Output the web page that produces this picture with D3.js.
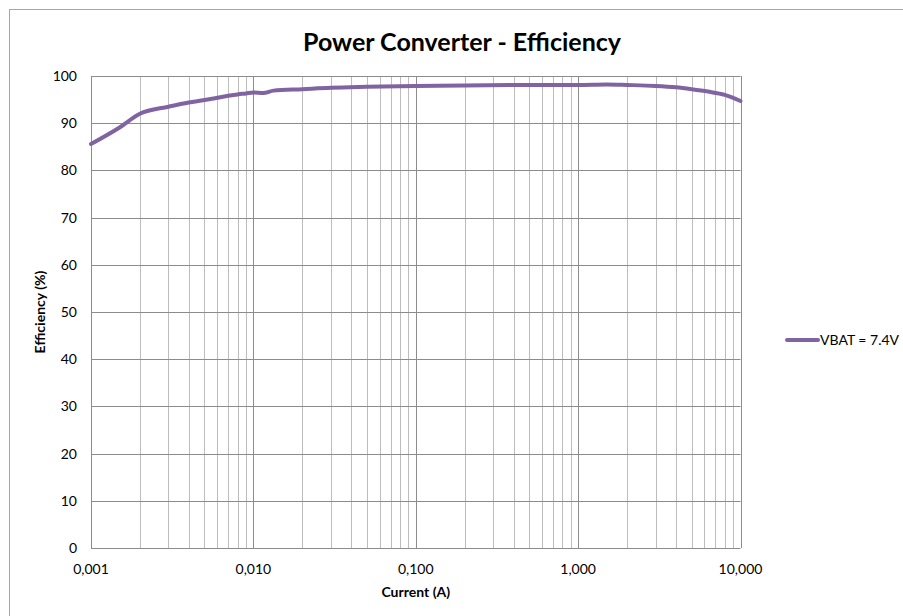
<!DOCTYPE html>
<html>
<head>
<meta charset="utf-8">
<script src="https://cdn.jsdelivr.net/npm/d3@7"></script>
<style>
  html, body { margin: 0; padding: 0; background: #fff; }
  svg { display: block; }
  text { font-family: Lato, "Open Sans", sans-serif; fill: #000; }
</style>
</head>
<body>
<svg id="chart" width="903" height="616"></svg>
<script>
// ---- data ----
const currents = [0.001, 0.0015, 0.002, 0.003, 0.004, 0.005, 0.006, 0.007, 0.008, 0.009, 0.010, 0.0115, 0.0133, 0.02, 0.03, 0.05, 0.1, 0.2, 0.5, 1.0, 1.5, 2.0, 3.0, 4.0, 5.0, 6.3, 8.0, 10.0];
const efficiency = [85.6, 89.1, 92.0, 93.5, 94.4, 94.9, 95.4, 95.8, 96.1, 96.3, 96.5, 96.4, 96.9, 97.2, 97.5, 97.7, 97.9, 98.0, 98.1, 98.1, 98.2, 98.1, 97.9, 97.6, 97.2, 96.7, 96.0, 94.7];
const xTicks = [0.001, 0.01, 0.1, 1, 10];
const xTickLabels = ["0,001", "0,010", "0,100", "1,000", "10,000"];
const yTicks = [0, 10, 20, 30, 40, 50, 60, 70, 80, 90, 100];
const seriesName = "VBAT = 7.4V";
const chartTitle = "Power Converter - Efficiency";
const xTitle = "Current (A)";
const yTitle = "Efficiency (%)";

const svg = d3.select("#chart");
const pLeft = 91, pRight = 740.5, pTop = 76, pBottom = 548;

const x = d3.scaleLog().domain([0.001, 10]).range([pLeft, pRight]);
const y = d3.scaleLinear().domain([0, 100]).range([pBottom, pTop]);

// outer border
svg.append("rect").attr("x", 9.5).attr("y", 9.5).attr("width", 1000).attr("height", 1000)
  .attr("fill", "none").attr("stroke", "#a6a6a6").attr("stroke-width", 1);

// minor vertical grid
const minor = [];
for (let d = 0.001; d < 10; d *= 10) {
  for (let k = 2; k <= 9; k++) minor.push(d * k);
}
svg.append("g").selectAll("line").data(minor).join("line")
  .attr("x1", d => Math.round(x(d)) + 0.5).attr("x2", d => Math.round(x(d)) + 0.5)
  .attr("y1", pTop).attr("y2", pBottom)
  .attr("stroke", "#bdbdbd").attr("stroke-width", 1);

// horizontal grid
svg.append("g").selectAll("line").data(yTicks).join("line")
  .attr("x1", pLeft).attr("x2", pRight)
  .attr("y1", d => Math.round(y(d)) + 0.5).attr("y2", d => Math.round(y(d)) + 0.5)
  .attr("stroke", "#8c8c8c").attr("stroke-width", 1);

// major vertical grid
svg.append("g").selectAll("line").data(xTicks).join("line")
  .attr("x1", d => Math.round(x(d)) + 0.5).attr("x2", d => Math.round(x(d)) + 0.5)
  .attr("y1", pTop).attr("y2", pBottom)
  .attr("stroke", "#8c8c8c").attr("stroke-width", 1);

// y tick labels
svg.append("g").selectAll("text").data(yTicks).join("text")
  .attr("x", 77).attr("y", d => y(d)).attr("dy", "0.35em")
  .attr("text-anchor", "end").attr("font-size", 14).text(d => d);

// x tick labels
svg.append("g").selectAll("text").data(xTicks).join("text")
  .attr("x", d => x(d)).attr("y", 574)
  .attr("text-anchor", "middle").attr("font-size", 14)
  .text((d, i) => xTickLabels[i]);

// series line
const line = d3.line().x((d, i) => x(currents[i])).y(d => y(d)).curve(d3.curveMonotoneX);
svg.append("path").datum(efficiency).attr("d", line)
  .attr("fill", "none").attr("stroke", "#8064a2").attr("stroke-width", 4)
  .attr("stroke-linejoin", "round").attr("stroke-linecap", "round");

// title
svg.append("text").attr("x", 462).attr("y", 51).attr("text-anchor", "middle")
  .attr("font-size", 25).attr("font-weight", "bold").text(chartTitle);

// axis titles
svg.append("text").attr("x", (pLeft + pRight) / 2).attr("y", 597).attr("text-anchor", "middle")
  .attr("font-size", 14).attr("font-weight", "bold").text(xTitle);
svg.append("text").attr("transform", `translate(45,${(pTop + pBottom) / 2}) rotate(-90)`)
  .attr("text-anchor", "middle").attr("font-size", 14).attr("font-weight", "bold").text(yTitle);

// legend
svg.append("line").attr("x1", 787).attr("x2", 818).attr("y1", 340).attr("y2", 340)
  .attr("stroke", "#8064a2").attr("stroke-width", 4).attr("stroke-linecap", "round");
svg.append("text").attr("x", 820).attr("y", 340).attr("dy", "0.35em")
  .attr("font-size", 14).text(seriesName);
</script>
</body>
</html>
